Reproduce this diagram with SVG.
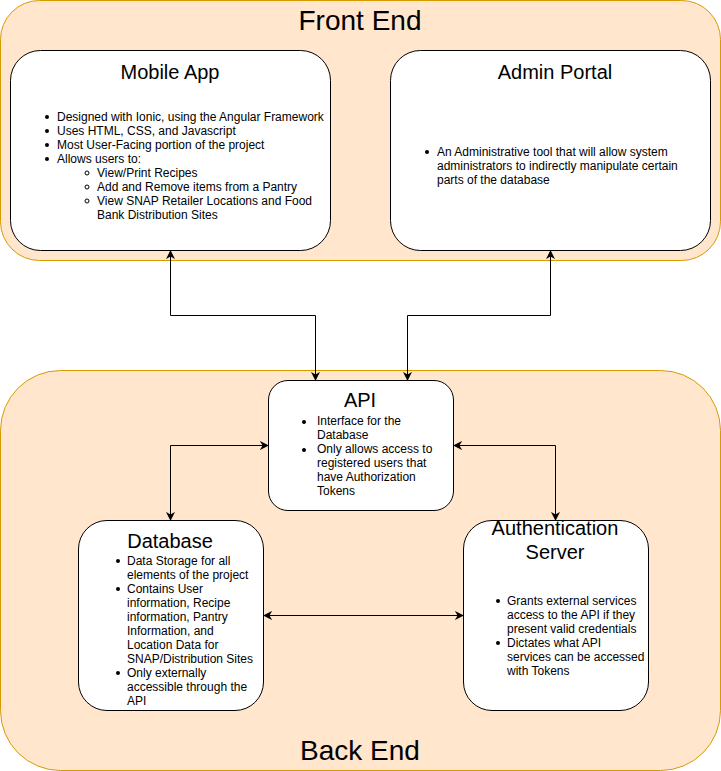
<svg xmlns="http://www.w3.org/2000/svg" width="721" height="771" viewBox="0 0 721 771">
<style>
.grp{fill:#ffe6cc;stroke:#d79b00;stroke-width:1}
.box{fill:#ffffff;stroke:#000000;stroke-width:1}
.t{font-family:"Liberation Sans",Arial,sans-serif;fill:#000000}
.big{font-size:28px;text-anchor:middle}
.ttl{font-size:20px;text-anchor:middle}
.b{font-size:12px}
.edge{fill:none;stroke:#000000;stroke-width:1}
</style>
<defs>
<marker id="ah" viewBox="0 0 10 10" refX="9" refY="5" markerWidth="9" markerHeight="9" markerUnits="userSpaceOnUse" orient="auto-start-reverse">
<path d="M0,0 L10,5 L0,10 L3,5 Z" fill="#000"/>
</marker>
</defs>
<rect width="721" height="771" fill="#ffffff"/>
<g id="front-end">
<rect class="grp" x="0.5" y="0.5" width="720" height="260" rx="39" ry="39"/>
<text class="t big" x="360" y="30">Front End</text>
</g>
<g id="back-end">
<rect class="grp" x="0.5" y="370.5" width="720" height="400" rx="60" ry="60"/>
<text class="t big" x="360" y="760">Back End</text>
</g>
<g id="mobile-app">
<rect class="box" x="10.5" y="50.5" width="320" height="200" rx="30" ry="30"/>
<text class="t ttl" x="170" y="79">Mobile App</text>
<g class="t b">
<circle cx="47" cy="117" r="2"/><text x="57" y="121">Designed with Ionic, using the Angular Framework</text>
<circle cx="47" cy="131" r="2"/><text x="57" y="135">Uses HTML, CSS, and Javascript</text>
<circle cx="47" cy="145" r="2"/><text x="57" y="149">Most User-Facing portion of the project</text>
<circle cx="47" cy="159" r="2"/><text x="57" y="163">Allows users to:</text>
<circle cx="87" cy="173" r="2" fill="none" stroke="#000" stroke-width="1"/><text x="97" y="177">View/Print Recipes</text>
<circle cx="87" cy="187" r="2" fill="none" stroke="#000" stroke-width="1"/><text x="97" y="191">Add and Remove items from a Pantry</text>
<circle cx="87" cy="201" r="2" fill="none" stroke="#000" stroke-width="1"/><text x="97" y="205">View SNAP Retailer Locations and Food</text>
<text x="97" y="219">Bank Distribution Sites</text>
</g>
</g>
<g id="admin-portal">
<rect class="box" x="390.5" y="50.5" width="320" height="200" rx="30" ry="30"/>
<text class="t ttl" x="555" y="79">Admin Portal</text>
<g class="t b">
<circle cx="427" cy="152" r="2"/><text x="437" y="156">An Administrative tool that will allow system</text>
<text x="437" y="170">administrators to indirectly manipulate certain</text>
<text x="437" y="184">parts of the database</text>
</g>
</g>
<g id="api">
<rect class="box" x="268.5" y="380.5" width="185" height="130" rx="19.5" ry="19.5"/>
<text class="t ttl" x="360" y="407">API</text>
<g class="t b">
<circle cx="304" cy="422" r="2"/><text x="317" y="425">Interface for the</text>
<text x="317" y="439">Database</text>
<circle cx="304" cy="450" r="2"/><text x="317" y="453">Only allows access to</text>
<text x="317" y="467">registered users that</text>
<text x="317" y="481">have Authorization</text>
<text x="317" y="495">Tokens</text>
</g>
</g>
<g id="database">
<rect class="box" x="78.5" y="520.5" width="185" height="190" rx="28.5" ry="28.5"/>
<text class="t ttl" x="170" y="548">Database</text>
<g class="t b">
<circle cx="118" cy="561" r="2"/><text x="127" y="565">Data Storage for all</text>
<text x="127" y="579">elements of the project</text>
<circle cx="118" cy="589" r="2"/><text x="127" y="593">Contains User</text>
<text x="127" y="607">information, Recipe</text>
<text x="127" y="621">information, Pantry</text>
<text x="127" y="635">Information, and</text>
<text x="127" y="649">Location Data for</text>
<text x="127" y="663">SNAP/Distribution Sites</text>
<circle cx="118" cy="673" r="2"/><text x="127" y="677">Only externally</text>
<text x="127" y="691">accessible through the</text>
<text x="127" y="705">API</text>
</g>
</g>
<g id="auth-server">
<rect class="box" x="463.5" y="520.5" width="185" height="190" rx="28.5" ry="28.5"/>
<text class="t ttl" x="555" y="535">Authentication</text>
<text class="t ttl" x="555" y="559">Server</text>
<g class="t b">
<circle cx="498" cy="601" r="2"/><text x="507" y="605">Grants external services</text>
<text x="507" y="619">access to the API if they</text>
<text x="507" y="633">present valid credentials</text>
<circle cx="498" cy="643" r="2"/><text x="507" y="647">Dictates what API</text>
<text x="507" y="661">services can be accessed</text>
<text x="507" y="675">with Tokens</text>
</g>
</g>
<g id="connectors">
<path class="edge" d="M170.5,251 L170.5,315.5 L315.5,315.5 L315.5,380" marker-start="url(#ah)" marker-end="url(#ah)"/>
<path class="edge" d="M550.5,251 L550.5,315.5 L407.5,315.5 L407.5,380" marker-start="url(#ah)" marker-end="url(#ah)"/>
<path class="edge" d="M268,445.5 L170.5,445.5 L170.5,520" marker-start="url(#ah)" marker-end="url(#ah)"/>
<path class="edge" d="M454,445.5 L555.5,445.5 L555.5,520" marker-start="url(#ah)" marker-end="url(#ah)"/>
<path class="edge" d="M264,615.5 L463,615.5" marker-start="url(#ah)" marker-end="url(#ah)"/>
</g>
</svg>
